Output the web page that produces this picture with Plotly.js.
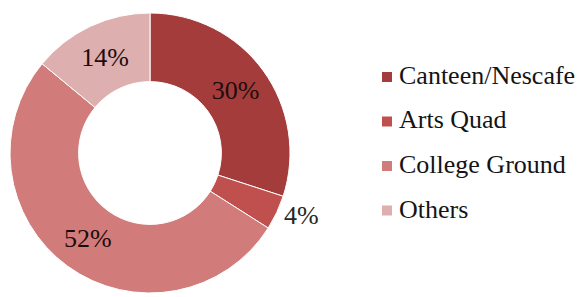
<!DOCTYPE html>
<html>
<head>
<meta charset="utf-8">
<script src="https://cdn.plot.ly/plotly-3.0.1.min.js"></script>
<style>html,body{margin:0;padding:0;background:#fff;}#chart{width:578px;height:297px;}</style>
</head>
<body>
<div id="chart"></div>
<script>
const labels = ["Canteen/Nescafe", "Arts Quad", "College Ground", "Others"];
const values = [30, 4, 52, 14];
const colors = ["#a43c3b", "#c0504d", "#d27b7b", "#ddb0af"];
const textPositions = ["inside", "outside", "inside", "inside"];

const W = 578, H = 297;
const font = "'Liberation Serif', 'DejaVu Serif', serif";

const trace = {
  type: "pie",
  labels: labels,
  values: values,
  sort: false,
  direction: "clockwise",
  rotation: 0,
  hole: 0.51,
  marker: { colors: colors, line: { color: "#ffffff", width: 1 } },
  textinfo: "percent",
  texttemplate: "%{percent:.0%}",
  textposition: textPositions,
  insidetextorientation: "horizontal",
  insidetextfont: { family: font, size: 26, color: "#1e0c0c" },
  outsidetextfont: { family: font, size: 26, color: "#262626" },
  showlegend: false,
  domain: { x: [10 / W, 290 / W], y: [1 - 293 / H, 1 - 13 / H] },
  hoverinfo: "label+percent"
};

const rowCenters = [77, 121.5, 166, 210.5];
const shapes = labels.map((l, i) => ({
  type: "rect", xref: "paper", yref: "paper",
  x0: 382 / W, x1: 392 / W,
  y0: 1 - (rowCenters[i] + 5) / H, y1: 1 - (rowCenters[i] - 5) / H,
  fillcolor: colors[i], line: { width: 0 }
}));
const annotations = labels.map((l, i) => ({
  text: l, xref: "paper", yref: "paper",
  x: 397 / W, y: 1 - (rowCenters[i] - 1.5) / H,
  xanchor: "left", yanchor: "middle", showarrow: false,
  font: { family: font, size: 26, color: "#141414" }
}));

const layout = {
  width: W, height: H,
  margin: { l: 0, r: 0, t: 0, b: 0 },
  paper_bgcolor: "#ffffff",
  plot_bgcolor: "#ffffff",
  showlegend: false,
  shapes: shapes,
  annotations: annotations
};

Plotly.newPlot("chart", [trace], layout, { displayModeBar: false, staticPlot: true });
</script>
</body>
</html>
